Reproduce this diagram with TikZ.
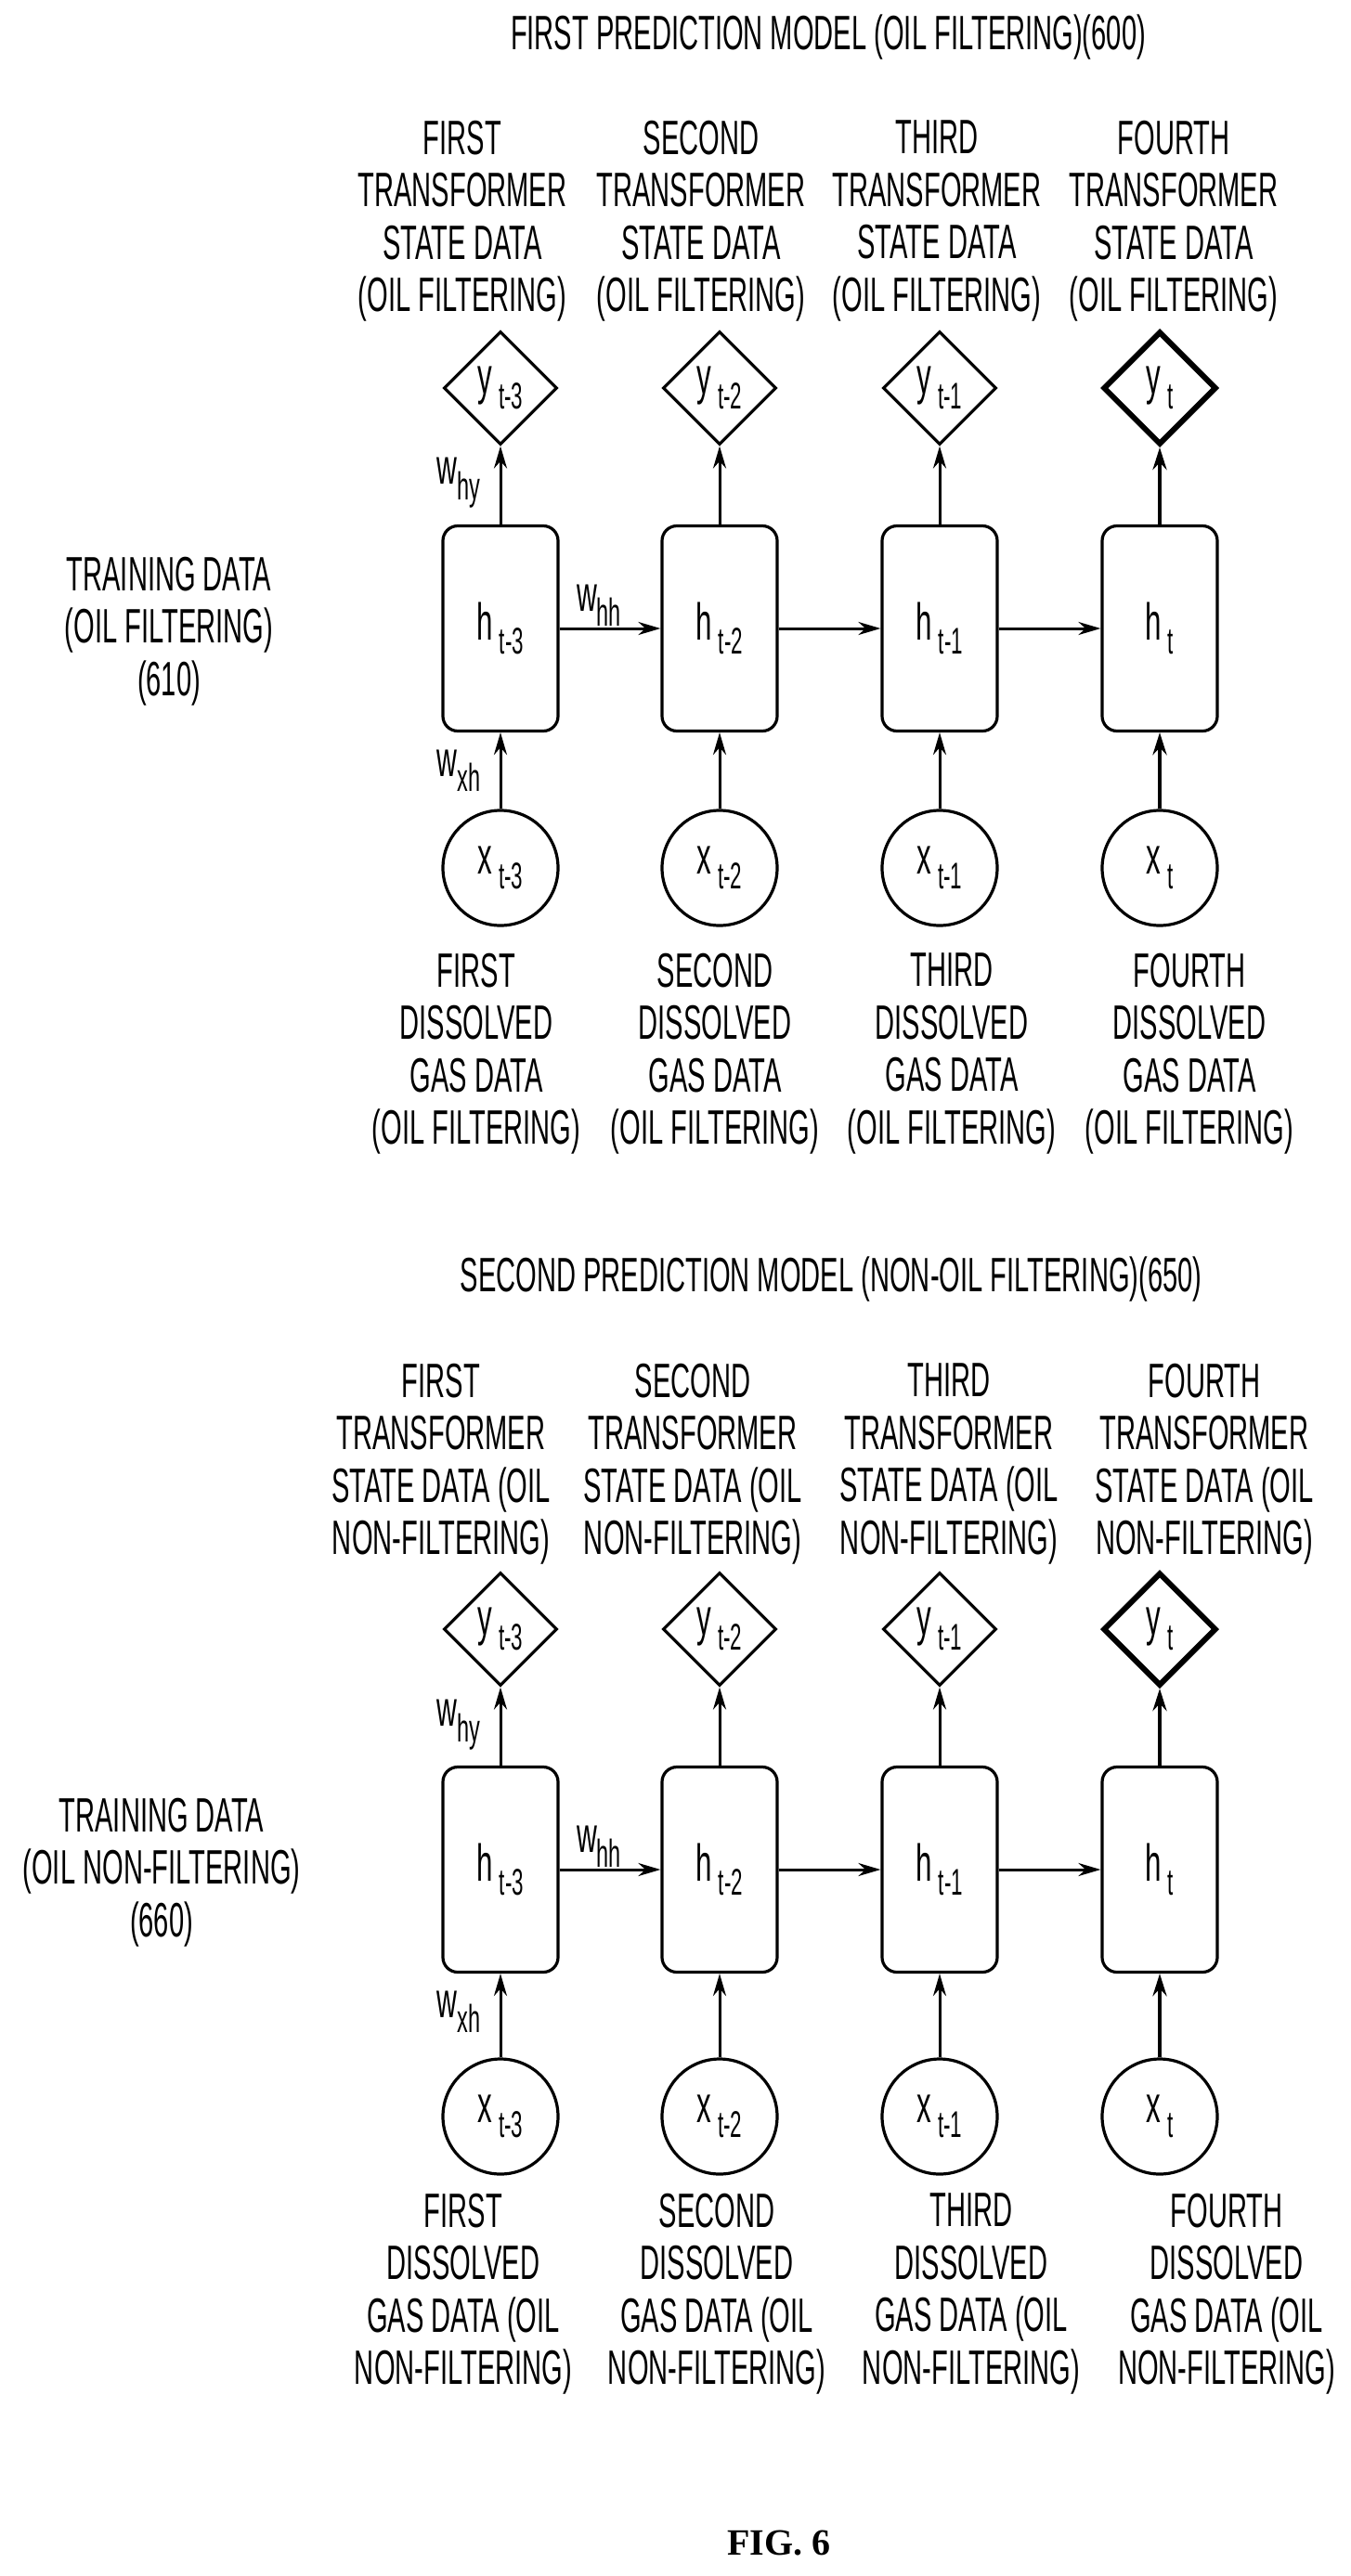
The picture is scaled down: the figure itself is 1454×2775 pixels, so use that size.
\documentclass[tikz,border=0pt]{standalone}
\usepackage{fontspec}
\setmainfont{Liberation Sans}[FakeStretch=0.56]
\newfontfamily\figfont{Liberation Serif}
\usetikzlibrary{shapes.geometric,arrows.meta}
\newcommand{\mysub}[2]{#1\raisebox{-0.28em}{\fontsize{40}{40}\selectfont\,#2}}
\newcommand{\mywsub}[2]{#1\raisebox{-0.3em}{\fontsize{42}{42}\selectfont #2}}
\begin{document}
\begin{tikzpicture}[x=1pt,y=-1pt,
  txt/.style={font=\fontsize{52}{56.5}\selectfont,align=center,inner sep=0},
  nodefont/.style={font=\fontsize{56}{56}\selectfont},
  ybox/.style={draw,diamond,line width=3.2pt,minimum width=122pt,minimum height=122pt,inner sep=0,nodefont},
  yboxb/.style={ybox,line width=6pt},
  hbox/.style={draw,rectangle,rounded corners=16pt,line width=3.2pt,minimum width=124pt,minimum height=221pt,inner sep=0,nodefont},
  xcirc/.style={draw,circle,line width=3.2pt,minimum size=124pt,inner sep=0,nodefont},
  arr/.style={line width=3pt,-{Stealth[length=24pt,width=14pt]}},
  arrb/.style={line width=4.5pt,-{Stealth[length=24pt,width=15pt]}},
  wl/.style={font=\fontsize{54}{54}\selectfont,inner sep=0}]
\useasboundingbox (0,0) rectangle (1454,2775);

% ---------- model 1 ----------
\node[txt] (T1) at (892,40) {FIRST PREDICTION MODEL (OIL FILTERING)(600)};
\node[txt] (TD1) at (182,680) {TRAINING DATA\\(OIL FILTERING)\\(610)};
\node[txt] (a1) at (498,238) {FIRST\\TRANSFORMER\\STATE DATA\\(OIL FILTERING)};
\node[txt] (a2) at (755,238) {SECOND\\TRANSFORMER\\STATE DATA\\(OIL FILTERING)};
\node[txt] (a3) at (1009,238) {THIRD\\TRANSFORMER\\STATE DATA\\(OIL FILTERING)};
\node[txt] (a4) at (1264,238) {FOURTH\\TRANSFORMER\\STATE DATA\\(OIL FILTERING)};
\node[txt] (b1) at (513,1135) {FIRST\\DISSOLVED\\GAS DATA\\(OIL FILTERING)};
\node[txt] (b2) at (770,1135) {SECOND\\DISSOLVED\\GAS DATA\\(OIL FILTERING)};
\node[txt] (b3) at (1025,1135) {THIRD\\DISSOLVED\\GAS DATA\\(OIL FILTERING)};
\node[txt] (b4) at (1281,1135) {FOURTH\\DISSOLVED\\GAS DATA\\(OIL FILTERING)};
\node[ybox] (y1) at (539,418) {\mysub{y}{t-3}};
\node[ybox] (y2) at (775,418) {\mysub{y}{t-2}};
\node[ybox] (y3) at (1012,418) {\mysub{y}{t-1}};
\node[yboxb] (y4) at (1249,418) {\mysub{y}{t}};
\node[hbox] (h1) at (539,677) {\mysub{h}{t-3}};
\node[hbox] (h2) at (775,677) {\mysub{h}{t-2}};
\node[hbox] (h3) at (1012,677) {\mysub{h}{t-1}};
\node[hbox] (h4) at (1249,677) {\mysub{h}{t}};
\node[xcirc] (x1) at (539,935) {\mysub{x}{t-3}};
\node[xcirc] (x2) at (775,935) {\mysub{x}{t-2}};
\node[xcirc] (x3) at (1012,935) {\mysub{x}{t-1}};
\node[xcirc] (x4) at (1249,935) {\mysub{x}{t}};
\draw[arr] (x1) -- (h1); \draw[arr] (x2) -- (h2); \draw[arr] (x3) -- (h3); \draw[arrb] (x4) -- (h4);
\draw[arr] (h1) -- (y1); \draw[arr] (h2) -- (y2); \draw[arr] (h3) -- (y3); \draw[arrb] (h4) -- (y4);
\draw[arr] (h1) -- (h2); \draw[arr] (h2) -- (h3); \draw[arr] (h3) -- (h4);
\node[wl] (why1) at (494,520) {\mywsub{w}{hy}};
\node[wl] (wxh1) at (494,830) {\mywsub{w}{xh}};
\node[wl] (whh1) at (645,652) {\mywsub{w}{hh}};

% ---------- model 2 ----------
\node[txt] (T2) at (895,1378) {SECOND PREDICTION MODEL (NON-OIL FILTERING)(650)};
\node[txt] (TD2) at (174,2017) {TRAINING DATA\\(OIL NON-FILTERING)\\(660)};
\node[txt] (c1) at (475,1577) {FIRST\\TRANSFORMER\\STATE DATA (OIL\\NON-FILTERING)};
\node[txt] (c2) at (746,1577) {SECOND\\TRANSFORMER\\STATE DATA (OIL\\NON-FILTERING)};
\node[txt] (c3) at (1022,1577) {THIRD\\TRANSFORMER\\STATE DATA (OIL\\NON-FILTERING)};
\node[txt] (c4) at (1297,1577) {FOURTH\\TRANSFORMER\\STATE DATA (OIL\\NON-FILTERING)};
\node[txt] (d1) at (499,2471) {FIRST\\DISSOLVED\\GAS DATA (OIL\\NON-FILTERING)};
\node[txt] (d2) at (772,2471) {SECOND\\DISSOLVED\\GAS DATA (OIL\\NON-FILTERING)};
\node[txt] (d3) at (1046,2471) {THIRD\\DISSOLVED\\GAS DATA (OIL\\NON-FILTERING)};
\node[txt] (d4) at (1321,2471) {FOURTH\\DISSOLVED\\GAS DATA (OIL\\NON-FILTERING)};
\node[ybox] (yy1) at (539,1755) {\mysub{y}{t-3}};
\node[ybox] (yy2) at (775,1755) {\mysub{y}{t-2}};
\node[ybox] (yy3) at (1012,1755) {\mysub{y}{t-1}};
\node[yboxb] (yy4) at (1249,1755) {\mysub{y}{t}};
\node[hbox] (hh1) at (539,2014) {\mysub{h}{t-3}};
\node[hbox] (hh2) at (775,2014) {\mysub{h}{t-2}};
\node[hbox] (hh3) at (1012,2014) {\mysub{h}{t-1}};
\node[hbox] (hh4) at (1249,2014) {\mysub{h}{t}};
\node[xcirc] (xx1) at (539,2280) {\mysub{x}{t-3}};
\node[xcirc] (xx2) at (775,2280) {\mysub{x}{t-2}};
\node[xcirc] (xx3) at (1012,2280) {\mysub{x}{t-1}};
\node[xcirc] (xx4) at (1249,2280) {\mysub{x}{t}};
\draw[arr] (xx1) -- (hh1); \draw[arr] (xx2) -- (hh2); \draw[arr] (xx3) -- (hh3); \draw[arrb] (xx4) -- (hh4);
\draw[arr] (hh1) -- (yy1); \draw[arr] (hh2) -- (yy2); \draw[arr] (hh3) -- (yy3); \draw[arrb] (hh4) -- (yy4);
\draw[arr] (hh1) -- (hh2); \draw[arr] (hh2) -- (hh3); \draw[arr] (hh3) -- (hh4);
\node[wl] (why2) at (494,1858) {\mywsub{w}{hy}};
\node[wl] (wxh2) at (494,2167) {\mywsub{w}{xh}};
\node[wl] (whh2) at (645,1989) {\mywsub{w}{hh}};

\node[font=\figfont\bfseries\fontsize{40}{40}\selectfont,inner sep=0] (fig) at (839,2740) {FIG. 6};
\end{tikzpicture}
\end{document}
